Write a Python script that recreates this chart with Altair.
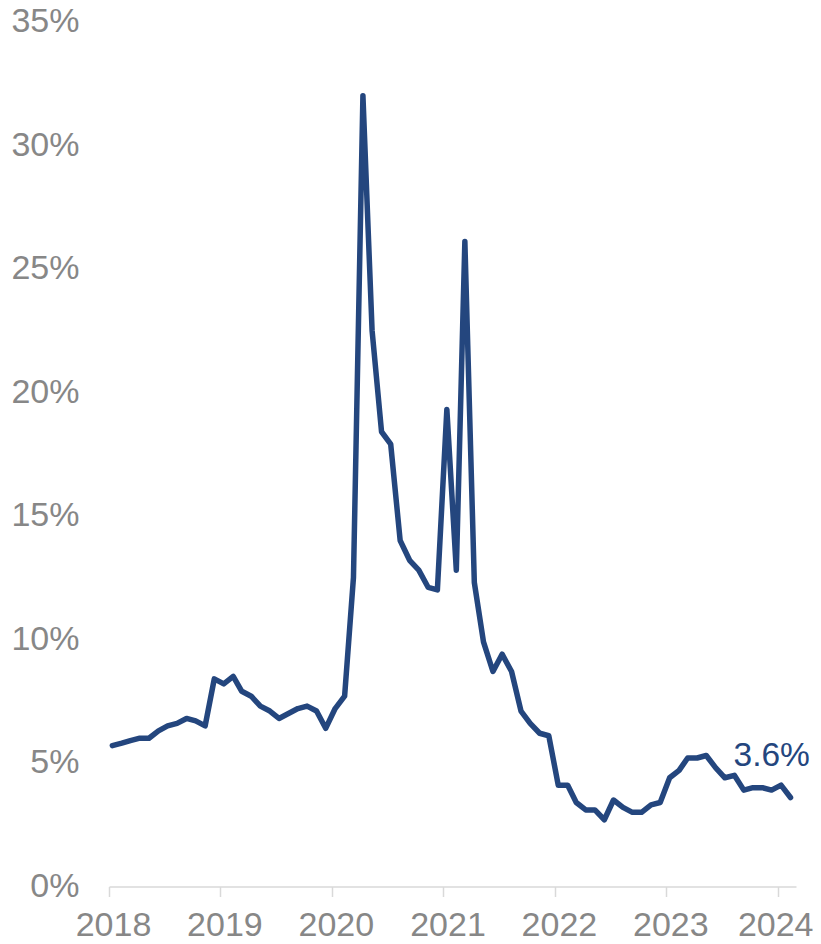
import altair as alt
import pandas as pd

FONT = "Liberation Sans, Arial, sans-serif"
BLUE = "#24467E"
GRAY = "#878787"
AXIS_GRAY = "#D9D9D9"

years = [2018, 2019, 2020, 2021, 2022, 2023, 2024]

# monthly values (%)
rate_2018 = [5.7, 5.8, 5.9, 6.0, 6.0, 6.3, 6.5, 6.6, 6.8, 6.7, 6.5, 8.4]
rate_2019 = [8.2, 8.5, 7.9, 7.7, 7.3, 7.1, 6.8, 7.0, 7.2, 7.3, 7.1, 6.4]
rate_2020 = [7.2, 7.7, 12.5, 32.0, 22.5, 18.4, 17.9, 14.0, 13.2, 12.8, 12.1, 12.0]
rate_2021 = [19.3, 12.8, 26.1, 12.3, 9.9, 8.7, 9.4, 8.7, 7.1, 6.6, 6.2, 6.1]
rate_2022 = [4.1, 4.1, 3.4, 3.1, 3.1, 2.7, 3.5, 3.2, 3.0, 3.0, 3.3, 3.4]
rate_2023 = [4.4, 4.7, 5.2, 5.2, 5.3, 4.8, 4.4, 4.5, 3.9, 4.0, 4.0, 3.9]
rate_2024 = [4.1, 3.6]

series = [rate_2018, rate_2019, rate_2020, rate_2021, rate_2022, rate_2023, rate_2024]
y_ticks = [0, 0.05, 0.10, 0.15, 0.20, 0.25, 0.30, 0.35]

rows = []
for yr, vals in zip(years, series):
    for m, v in enumerate(vals, start=1):
        rows.append({"date": f"{yr}-{m:02d}-12T00:00:00", "rate": v / 100})
df = pd.DataFrame(rows)
last = df.tail(1).assign(label=f"{rate_2024[-1]:.1f}%")

x_enc = alt.X(
    "date:T",
    title=None,
    scale=alt.Scale(domain=[alt.DateTime(year=2018, month=1, date=1),
                            alt.DateTime(year=2024, month=3, date=1)]),
    axis=alt.Axis(
        values=[alt.DateTime(year=y, month=1, date=1) for y in years],
        format="%Y",
        grid=False,
        domain=True,
        domainColor=AXIS_GRAY,
        domainWidth=1.5,
        ticks=True,
        tickColor=AXIS_GRAY,
        tickWidth=1.5,
        tickSize=10,
        labelFont=FONT,
        labelFontSize=34,
        labelColor=GRAY,
        labelBaseline="alphabetic",
        labelPadding=39,
        labelOffset={"condition": {"test": "year(datum.value) >= 2024", "value": -2.5},
                     "value": 4},
        labelFlush=False,
        labelOverlap=False,
    ),
)
y_enc = alt.Y(
    "rate:Q",
    title=None,
    scale=alt.Scale(domain=[0, 0.35], nice=False),
    axis=alt.Axis(
        values=y_ticks,
        format=".0%",
        grid=False,
        domain=False,
        ticks=False,
        labelPadding=30,
        labelFont=FONT,
        labelFontSize=34,
        labelColor=GRAY,
    ),
)

line = alt.Chart(df).mark_line(
    color=BLUE, strokeWidth=5.5, strokeJoin="round", strokeCap="round"
).encode(x=x_enc, y=y_enc)

label = alt.Chart(last).mark_text(
    align="left", baseline="alphabetic", dx=-57, dy=-31.5,
    fontSize=33.5, font=FONT, color=BLUE
).encode(x=x_enc, y=y_enc, text="label:N")

chart = alt.layer(line, label).properties(
    width=687,
    height=865,
    autosize=alt.AutoSizeParams(type="none"),
    padding={"left": 101, "top": 13.5, "right": 17, "bottom": 49.5},
).configure_view(stroke=None)

chart.save("out.html", embed_options={"renderer": "svg", "actions": False})
